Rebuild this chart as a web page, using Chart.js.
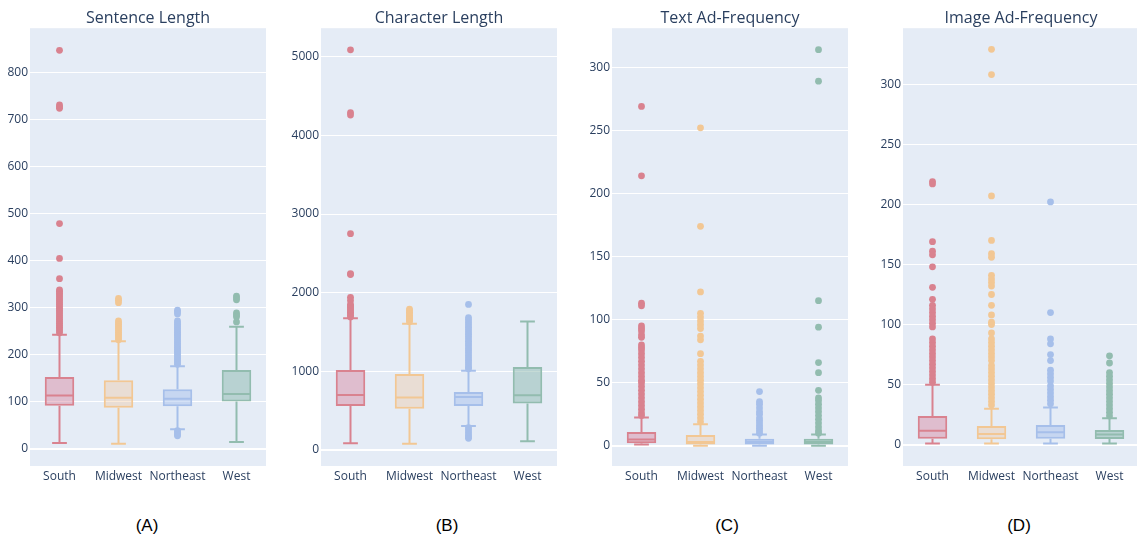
<!DOCTYPE html>
<html>
<head>
<meta charset="utf-8">
<script src="https://cdn.jsdelivr.net/npm/chart.js@4.4.1/dist/chart.umd.min.js"></script>
<style>
  html, body { margin: 0; padding: 0; background: #ffffff; }
  body { width: 1137px; height: 541px; position: relative; overflow: hidden; }
  canvas { position: absolute; top: 0; }
  .cap { position: absolute; top: 516px; width: 60px; margin-left: -30px; text-align: center;
         font-family: 'Liberation Sans', Arial, sans-serif; font-size: 17px; line-height: 20px; color: #000; }
</style>
</head>
<body>
<canvas id="cA" width="266" height="490" style="left:0px"></canvas>
<canvas id="cB" width="272" height="490" style="left:285px"></canvas>
<canvas id="cC" width="270" height="490" style="left:578px"></canvas>
<canvas id="cD" width="270" height="490" style="left:869px"></canvas>
<div class="cap" style="left:147px">(A)</div>
<div class="cap" style="left:447px">(B)</div>
<div class="cap" style="left:727px">(C)</div>
<div class="cap" style="left:1019px">(D)</div>
<script>
// Regions shown on every panel
const regions = ['South', 'Midwest', 'Northeast', 'West'];
const lineColors = ['#D9828F', '#F2C794', '#A6BFEA', '#92BCAF'];
const fillColors = ['rgba(214,124,150,0.42)', 'rgba(240,196,148,0.35)', 'rgba(160,188,236,0.45)', 'rgba(140,184,174,0.5)'];

// Sentence Length
const sentenceLow  = [13, 11, 42, 15];
const sentenceQ1   = [92, 88, 91, 101];
const sentenceMed  = [114, 109, 107, 117];
const sentenceQ3   = [153, 146, 127, 168];
const sentenceHigh = [243, 229, 176, 260];
const sentenceOutliers = [
  [847, 731, 727, 724, 479, 405, 362, 338, 335, 331, 327, 323, 319, 315, 311, 307, 303, 299, 295, 291, 287, 283, 279, 275, 271, 267, 263, 259, 255, 251, 247],
  [320, 316, 311, 272, 268, 264, 260, 256, 252, 248, 244, 240, 236, 232],
  [295, 291, 287, 272, 268, 264, 260, 256, 252, 248, 244, 240, 236, 232, 228, 224, 220, 216, 212, 208, 204, 200, 196, 192, 188, 184, 180, 39, 35, 31, 28],
  [325, 321, 317, 289, 285, 281, 270]
];
const sentenceTicks = [0, 100, 200, 300, 400, 500, 600, 700, 800];
const sentenceRange = [-36, 894];

// Character Length
const charLow  = [81, 76, 301, 107];
const charQ1   = [556, 522, 556, 590];
const charMed  = [696, 666, 670, 692];
const charQ3   = [1014, 963, 734, 1052];
const charHigh = [1672, 1603, 1005, 1633];
const charOutliers = [
  [5090, 4290, 4260, 2750, 2240, 2230, 1940, 1900, 1850, 1830, 1810, 1790, 1770, 1750, 1730, 1710, 1690],
  [1790, 1770, 1750, 1730, 1710, 1690, 1670, 1650, 1630],
  [1850, 1680, 1650, 1620, 1590, 1560, 1530, 1500, 1470, 1440, 1410, 1380, 1350, 1320, 1290, 1260, 1230, 1200, 1170, 1140, 1110, 1080, 1050, 1030, 280, 250, 220, 190, 165, 145],
  []
];
const charTicks = [0, 1000, 2000, 3000, 4000, 5000];
const charRange = [-207, 5365];

// Text Ad-Frequency
const textLow  = [1, 0, 0, 0];
const textQ1   = [2, 1, 1, 1];
const textMed  = [5, 3, 3, 3];
const textQ3   = [11, 8.5, 5.5, 5.5];
const textHigh = [22.5, 17, 9, 9];
const textOutliers = [
  [269, 214, 113, 111, 95, 93, 91, 88, 86, 80, 78, 76, 73, 70, 67, 64, 61, 58, 55, 52, 50, 47, 44, 41, 38, 35, 32, 29, 26, 24],
  [252, 174, 122, 105, 102, 99, 96, 93, 87, 84, 73, 67, 64, 61, 58, 55, 52, 49, 46, 43, 40, 37, 34, 31, 28, 25, 22, 19],
  [43, 35, 33, 30, 27, 25, 22, 20, 18, 16, 14, 12, 10],
  [314, 289, 115, 94, 66, 58, 44, 38, 36, 33, 30, 27, 24, 21, 18, 15, 12, 10]
];
const textTicks = [0, 50, 100, 150, 200, 250, 300];
const textRange = [-16, 331];

// Image Ad-Frequency
const imageLow  = [1, 1, 1, 1];
const imageQ1   = [5, 4.5, 5, 4.7];
const imageMed  = [11.6, 9, 10.3, 8.6];
const imageQ3   = [24, 15.6, 16.4, 12.2];
const imageHigh = [50, 30, 31, 22];
const imageOutliers = [
  [219, 217, 169, 161, 158, 148, 131, 121, 116, 113, 110, 107, 104, 101, 98, 88, 85, 82, 79, 76, 73, 70, 67, 64, 61, 58, 55, 52],
  [329, 308, 207, 170, 159, 156, 141, 138, 135, 132, 125, 116, 108, 102, 100, 93, 88, 85, 82, 79, 76, 73, 70, 66, 63, 60, 57, 54, 51, 48, 45, 42, 39, 36, 33],
  [202, 110, 88, 84, 75, 70, 62, 59, 56, 53, 49, 46, 43, 40, 37, 34],
  [74, 68, 60, 57, 54, 51, 48, 45, 42, 39, 36, 33, 30, 27, 24]
];
const imageTicks = [0, 50, 100, 150, 200, 250, 300];
const imageRange = [-17.7, 346.6];

const INK = '#2a3f5f';
Chart.defaults.font.family = "'Open Sans', 'Liberation Sans', sans-serif";

// Plot-area background
const plotBackground = {
  id: 'plotBackground',
  beforeDraw(chart) {
    const { ctx, chartArea: a } = chart;
    ctx.save();
    ctx.fillStyle = '#E5ECF6';
    ctx.fillRect(a.left, a.top, a.right - a.left, a.bottom - a.top);
    ctx.restore();
  }
};

// Whiskers, caps and median lines for each box
const boxWhiskers = {
  id: 'boxWhiskers',
  afterDatasetsDraw(chart, args, opts) {
    const { ctx } = chart;
    const xs = chart.scales.x, ys = chart.scales.y;
    const boxW = xs.width / regions.length * 0.5;
    ctx.save();
    ctx.lineWidth = 2;
    regions.forEach((r, i) => {
      const cx = xs.getPixelForValue(i);
      const yLow = ys.getPixelForValue(opts.low[i]);
      const yQ1 = ys.getPixelForValue(opts.q1[i]);
      const yMed = ys.getPixelForValue(opts.med[i]);
      const yQ3 = ys.getPixelForValue(opts.q3[i]);
      const yHigh = ys.getPixelForValue(opts.high[i]);
      ctx.strokeStyle = lineColors[i];
      ctx.beginPath();
      ctx.moveTo(cx, yQ1); ctx.lineTo(cx, yLow);
      ctx.moveTo(cx, yQ3); ctx.lineTo(cx, yHigh);
      ctx.moveTo(cx - boxW / 4, yLow); ctx.lineTo(cx + boxW / 4, yLow);
      ctx.moveTo(cx - boxW / 4, yHigh); ctx.lineTo(cx + boxW / 4, yHigh);
      ctx.moveTo(cx - boxW / 2 + 1, yMed); ctx.lineTo(cx + boxW / 2 - 1, yMed);
      ctx.stroke();
    });
    ctx.restore();
  }
};

function makePanel(canvasId, title, axisWidth, low, q1, med, q3, high, outliers, ticks, range) {
  const datasets = [{
    type: 'bar',
    data: regions.map((r, i) => [q1[i], q3[i]]),
    backgroundColor: fillColors,
    borderColor: lineColors,
    borderWidth: 2,
    borderSkipped: false,
    barPercentage: 0.5,
    categoryPercentage: 1
  }];
  regions.forEach((r, i) => {
    datasets.push({
      type: 'scatter',
      data: outliers[i].map(v => ({ x: r, y: v })),
      backgroundColor: lineColors[i],
      borderWidth: 0,
      pointRadius: 3.4,
      pointHoverRadius: 3.4
    });
  });
  return new Chart(document.getElementById(canvasId), {
    type: 'bar',
    data: { labels: regions, datasets },
    options: {
      responsive: false,
      animation: false,
      events: [],
      layout: { padding: 0, autoPadding: false },
      plugins: {
        legend: { display: false },
        tooltip: { enabled: false },
        title: {
          display: true, text: title, color: INK, fullSize: false,
          font: { size: 16, weight: 'normal' },
          padding: { top: 9, bottom: 0 }
        },
        boxWhiskers: { low, q1, med, q3, high }
      },
      scales: {
        x: {
          type: 'category',
          grid: { display: false, drawTicks: false },
          border: { display: false },
          ticks: { color: INK, font: { size: 12 }, padding: 3, maxRotation: 0, autoSkip: false },
          afterFit(s) { s.height = 24; }
        },
        y: {
          type: 'linear',
          min: range[0], max: range[1],
          afterBuildTicks(s) { s.ticks = ticks.map(v => ({ value: v })); },
          grid: {
            color: '#ffffff',
            lineWidth: c => (c.tick && c.tick.value === 0 ? 2 : 1),
            drawTicks: false
          },
          border: { display: false },
          ticks: { color: INK, font: { size: 12 }, padding: 2, callback: v => String(v) },
          afterFit(s) { s.width = axisWidth; }
        }
      }
    },
    plugins: [plotBackground, boxWhiskers]
  });
}

makePanel('cA', 'Sentence Length', 30, sentenceLow, sentenceQ1, sentenceMed, sentenceQ3, sentenceHigh, sentenceOutliers, sentenceTicks, sentenceRange);
makePanel('cB', 'Character Length', 36, charLow, charQ1, charMed, charQ3, charHigh, charOutliers, charTicks, charRange);
makePanel('cC', 'Text Ad-Frequency', 34, textLow, textQ1, textMed, textQ3, textHigh, textOutliers, textTicks, textRange);
makePanel('cD', 'Image Ad-Frequency', 34, imageLow, imageQ1, imageMed, imageQ3, imageHigh, imageOutliers, imageTicks, imageRange);
</script>
</body>
</html>
